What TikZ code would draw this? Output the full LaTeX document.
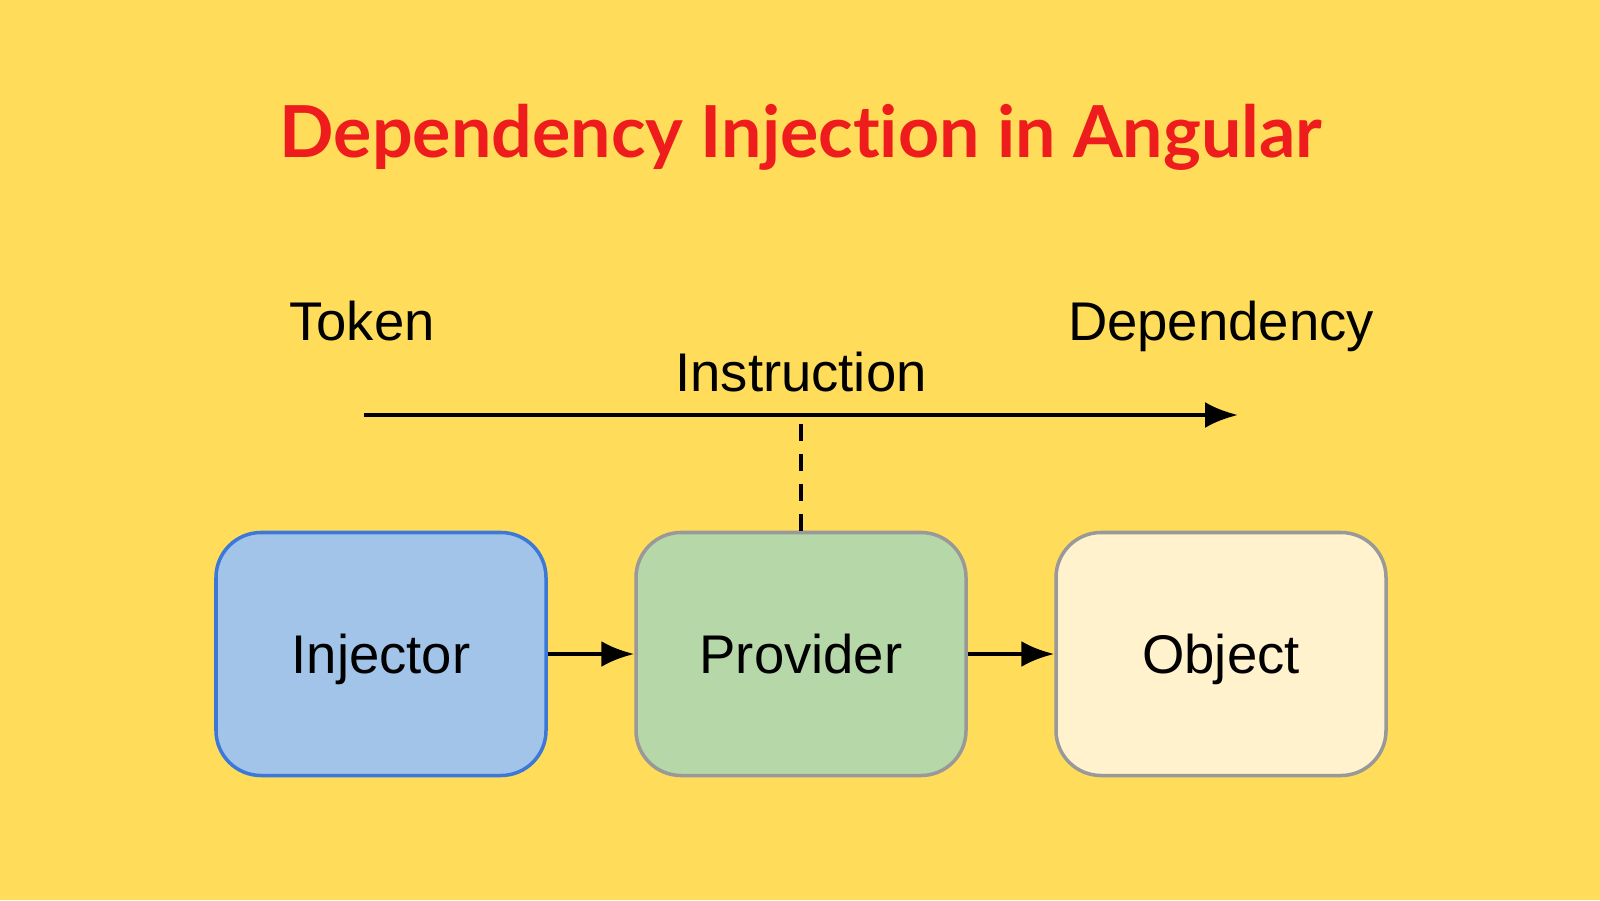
\documentclass[tikz,border=0pt]{standalone}
\usepackage{fontspec}
\setmainfont{Liberation Sans}
\newfontfamily\titlefont[Ligatures={NoCommon,NoRare}]{Lato}
\usetikzlibrary{positioning,arrows.meta}
\definecolor{bgyellow}{HTML}{FFDC5A}
\definecolor{titlered}{HTML}{EE1C1C}
\definecolor{injfill}{HTML}{A2C4E9}
\definecolor{injline}{HTML}{3C78D8}
\definecolor{provfill}{HTML}{B6D7A8}
\definecolor{objfill}{HTML}{FFF2CC}
\tikzset{
  block/.style={draw, line width=1pt, rounded corners=0.45cm, minimum width=3.3cm, minimum height=2.43cm},
  lbl/.style={anchor=base, font=\fontsize{15.5}{18}\selectfont},
  flow/.style={line width=1.3pt, -{Latex[length=0.33cm, width=0.26cm]}}
}
\begin{document}
\begin{tikzpicture}
        % Background
        \fill[bgyellow] (0,0) rectangle (16,9);
        \useasboundingbox (0,0) rectangle (16,9);
        % Title
        \node[font=\titlefont\bfseries\fontsize{20.4}{24}\selectfont, text=titlered] (title) at (8.01,7.63) {Dependency Injection in Angular};
        % Blocks
        \node[block, fill=injfill, draw=injline] (injector) at (3.81,2.46) {};
        \node[block, fill=provfill, draw=gray!80] (provider) at (8.01,2.46) {};
        \node[block, fill=objfill, draw=gray!80] (object) at (12.21,2.46) {};
        \node[lbl] (injtext) at (3.81,2.27) {Injector};
        \node[lbl] (provtext) at (8.01,2.27) {Provider};
        \node[lbl] (objtext) at (12.21,2.27) {Object};
        \draw[flow] (injector) -- (provider);
        \draw[flow] (provider) -- (object);
        % Instruction line
        \coordinate (start) at (3.64,4.85);
        \coordinate (stop) at (12.38,4.85);
        \coordinate (mid) at (8.01,4.85);
        \draw[flow] (start) -- (stop);
        \draw[line width=1.3pt, dash pattern=on 0.17cm off 0.13cm] (provider.north) -- (mid);
        % Labels
        \node[lbl] (token) at (3.62,5.60) {Token};
        \node[lbl] (dependency) at (12.21,5.60) {Dependency};
        \node[lbl] (instruction) at (8.01,5.09) {Instruction};
\end{tikzpicture}
\end{document}
